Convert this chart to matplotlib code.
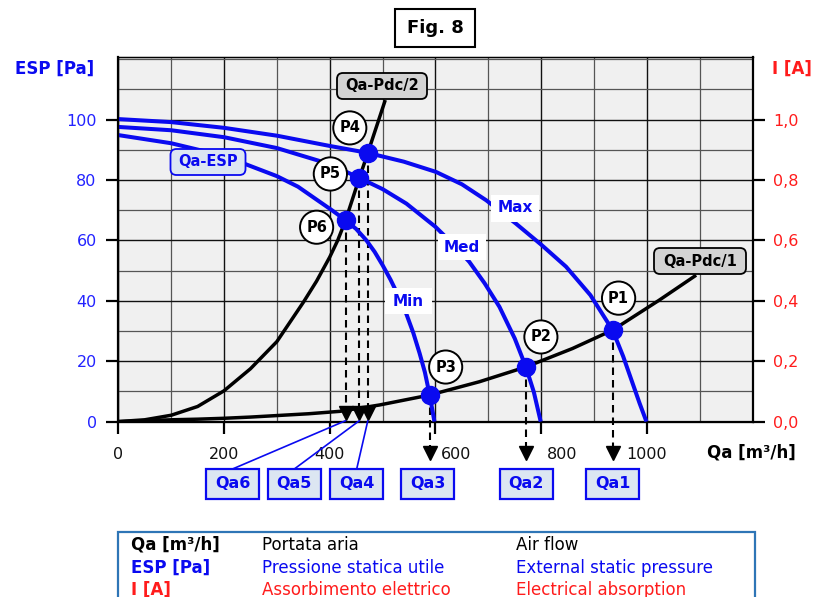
import matplotlib
matplotlib.use("Agg")
import matplotlib.pyplot as plt
from matplotlib.patches import FancyBboxPatch, Rectangle, ConnectionPatch
from matplotlib.ticker import MultipleLocator
from matplotlib.transforms import ScaledTranslation

# fan curves, ESP [Pa] against Qa [m3/h]
max_qa = [0, 100, 200, 300, 400, 472, 540, 601, 650, 696, 752, 800, 847, 893, 935, 955, 973, 986, 999]
max_esp = [100.2, 99.2, 97.3, 94.7, 91.3, 89.0, 86.1, 82.7, 78.6, 73.3, 65.6, 58.6, 51.3, 41.9,
           30.3, 21.6, 12.6, 6.1, 0]
med_qa = [0, 100, 200, 300, 400, 456, 500, 545, 600, 632, 664, 693, 721, 750, 771, 786, 799]
med_esp = [97.6, 96.5, 94.2, 90.6, 85.3, 80.7, 77.0, 72.2, 64.5, 59.0, 52.9, 45.8, 38.0, 27.5,
           18.1, 9.8, 0]
min_qa = [0, 100, 200, 300, 340, 377, 405, 430, 450, 469, 485, 500, 515, 530, 545, 558, 570,
          580, 589, 598]
min_esp = [94.9, 92.2, 88.0, 81.3, 77.8, 73.3, 69.9, 66.7, 63.8, 60.1, 56.2, 51.8, 47.0, 41.6,
           35.6, 29.4, 22.6, 16.3, 8.8, 0]

# system (pressure drop) curves
pdc1_qa = [0, 50, 100, 150, 200, 250, 300, 360, 419, 494, 589, 683, 771, 859, 935, 1023, 1093]
pdc1_esp = [0, 0.3, 0.6, 0.8, 1.1, 1.5, 2.0, 2.6, 3.4, 5.5, 8.8, 13.2, 18.1, 24.2, 30.3, 40.2, 48.5]
pdc2_qa = [0, 50, 100, 150, 200, 250, 300, 350, 375, 400, 415, 430, 456, 472, 505]
pdc2_esp = [0, 0.6, 2.1, 5.0, 10.2, 17.5, 26.5, 39.5, 46.5, 54.5, 60.0, 66.7, 80.7, 89.0, 106.5]

# operating points
op_names = ["P1", "P2", "P3", "P4", "P5", "P6"]
op_qa = [935, 771, 589, 472, 456, 430]
op_esp = [30.3, 18.1, 8.8, 89.0, 80.7, 66.7]
qa_names = ["Qa1", "Qa2", "Qa3", "Qa4", "Qa5", "Qa6"]

esp_ticks = [0, 20, 40, 60, 80, 100]
amp_ticks = [0.0, 0.2, 0.4, 0.6, 0.8, 1.0]
qa_ticks = [0, 200, 400, 600, 800, 1000]

legend_rows = [
    ("Qa [m³/h]", "Portata aria", "Air flow"),
    ("ESP [Pa]", "Pressione statica utile", "External static pressure"),
    ("I [A]", "Assorbimento elettrico", "Electrical absorption"),
]

BLUE = "#0a0af0"
TICK_BLUE = "#2323ff"
RED = "#ff1c1c"
LIGHT = "#dce6f2"

fig = plt.figure(figsize=(8.14, 5.97), dpi=100)
ax = fig.add_axes([0.1453, 0.2938, 0.7794, 0.6099])
ax.set_facecolor("#f0f0f0")
ax.set_xlim(0, 1200)
ax.set_ylim(0, 120.6)

# grid: darker at the major steps
ax.xaxis.set_minor_locator(MultipleLocator(100))
ax.yaxis.set_minor_locator(MultipleLocator(10))
ax.set_xticks(qa_ticks)
ax.set_yticks(esp_ticks)
ax.grid(which="minor", color="#555555", lw=0.9, zorder=0)
ax.grid(which="major", color="#111111", lw=1.0, zorder=0)
ax.set_axisbelow(True)
ax.tick_params(which="minor", length=0)
ax.tick_params(which="major", direction="out", length=8.5, width=1.6, labelsize=11.5)
ax.tick_params(axis="x", pad=10, labelcolor="#111111")
ax.tick_params(axis="y", pad=7, labelcolor=TICK_BLUE)
# 600 and 800 sit to the right of the drop arrows
shift = ScaledTranslation(4 / 72, 0, fig.dpi_scale_trans)
for val, tick in zip(qa_ticks, ax.xaxis.get_major_ticks()):
    if val in (600, 800):
        tick.label1.set_horizontalalignment("left")
        tick.label1.set_transform(tick.label1.get_transform() + shift)
for side in ["left", "bottom", "right"]:
    ax.spines[side].set_linewidth(1.6)
ax.spines["top"].set_linewidth(1.0)

ax2 = ax.twinx()
ax2.set_ylim(0, 1.206)
ax2.set_yticks(amp_ticks)
ax2.set_yticklabels([f"{v:.1f}".replace(".", ",") for v in amp_ticks])
ax2.tick_params(direction="out", length=8.5, width=1.6, labelsize=11.5, pad=6, labelcolor=RED)
ax2.spines["right"].set_linewidth(1.4)

# curves
for qa, esp in [(max_qa, max_esp), (med_qa, med_esp), (min_qa, min_esp)]:
    ax.plot(qa, esp, color=BLUE, lw=2.9, zorder=3, solid_capstyle="butt", solid_joinstyle="round")
for qa, esp in [(pdc1_qa, pdc1_esp), (pdc2_qa, pdc2_esp)]:
    ax.plot(qa, esp, color="black", lw=2.5, zorder=3, solid_capstyle="butt", solid_joinstyle="round")

# dashed drop lines with arrows
dash = (0, (3.6, 2.4))
for i, (q, e) in enumerate(zip(op_qa, op_esp)):
    if i < 3:
        ax.plot([q, q], [e, -9.0], color="black", lw=1.5, ls=dash, clip_on=False, zorder=2)
        ax.plot(q, -10.4, marker="v", ms=10, color="black", clip_on=False, zorder=2)
    else:
        ax.plot([q, q], [e, 4.0], color="black", lw=1.5, ls=dash, clip_on=False, zorder=2)
        ax.plot(q, 2.8, marker="v", ms=10, color="black", clip_on=False, zorder=4)

ax.plot(op_qa, op_esp, "o", color=BLUE, ms=13, zorder=5)

# P labels in circles
offsets = [(6, 32), (15, 30), (16, 28), (-18, 25), (-29, 4), (-29, -7)]
for name, q, e, off in zip(op_names, op_qa, op_esp, offsets):
    ax.annotate(name, (q, e), xytext=off, textcoords="offset pixels",
                ha="center", va="center", fontsize=10.5, fontweight="bold", zorder=6,
                bbox=dict(boxstyle="circle,pad=0.42", fc="white", ec="black", lw=1.4))

# overlay in pixel coordinates for the boxed labels
ov = fig.add_axes([0, 0, 1, 1], zorder=5)
ov.set_xlim(0, 814)
ov.set_ylim(597, 0)
ov.axis("off")
ov.patch.set_alpha(0)


def label_box(cx, cy, w, h, text, fc, ec, color, size, r=0, lw=1.5):
    if r:
        patch = FancyBboxPatch((cx - w / 2 + r, cy - h / 2 + r), w - 2 * r, h - 2 * r,
                               boxstyle=f"round,pad={r},rounding_size={r}",
                               fc=fc, ec=ec, lw=lw)
    else:
        patch = Rectangle((cx - w / 2, cy - h / 2), w, h, fc=fc, ec=ec, lw=lw)
    ov.add_patch(patch)
    ov.text(cx, cy, text, ha="center", va="center", color=color,
            fontsize=size, fontweight="bold")


label_box(435, 28, 80, 38, "Fig. 8", "white", "black", "black", 13)
label_box(208, 162, 75, 26, "Qa-ESP", LIGHT, BLUE, BLUE, 10.5, r=6, lw=1.3)
label_box(382, 86, 90, 26, "Qa-Pdc/2", "#d3d3d3", "black", "black", 10.5, r=6, lw=1.3)
label_box(700, 261, 92, 26, "Qa-Pdc/1", "#d3d3d3", "black", "black", 10.5, r=6, lw=1.3)
label_box(515, 208, 48, 27, "Max", "white", "none", BLUE, 11)
label_box(462, 247, 48, 26, "Med", "white", "none", BLUE, 11)
label_box(408, 301, 47, 26, "Min", "white", "none", BLUE, 11)

box_x = [612.5, 526, 427.5, 356.7, 294.3, 232.5]
for i, (name, bx) in enumerate(zip(qa_names, box_x)):
    label_box(bx, 484, 53, 30, name, LIGHT, BLUE, BLUE, 11.5, lw=1.6)
    if i >= 3:
        con = ConnectionPatch(xyA=(bx, 469), coordsA=ov.transData,
                              xyB=(op_qa[i], 0.3), coordsB=ax.transData,
                              color=BLUE, lw=1.2)
        ov.add_artist(con)

# axis titles
fig.text(55 / 814, 1 - 69 / 597, "ESP [Pa]", color=BLUE, fontsize=12, fontweight="bold",
         ha="center", va="center")
fig.text(792 / 814, 1 - 69 / 597, "I [A]", color=RED, fontsize=12, fontweight="bold",
         ha="center", va="center")
fig.text(751 / 814, 1 - 453 / 597, "Qa [m³/h]", color="black", fontsize=12, fontweight="bold",
         ha="center", va="center")

# legend table at the bottom
ov.add_patch(Rectangle((117.5, 532), 637.5, 120, fc="white", ec="#2e75b6", lw=1.6))
row_colors = ["black", BLUE, RED]
for (a, b, c), y, col in zip(legend_rows, [545, 568, 590], row_colors):
    ov.text(131, y, a, color=col, fontsize=12, fontweight="bold", va="center")
    ov.text(262, y, b, color=col, fontsize=12, va="center")
    ov.text(516, y, c, color=col, fontsize=12, va="center")

fig.savefig("out.png", dpi=100)
